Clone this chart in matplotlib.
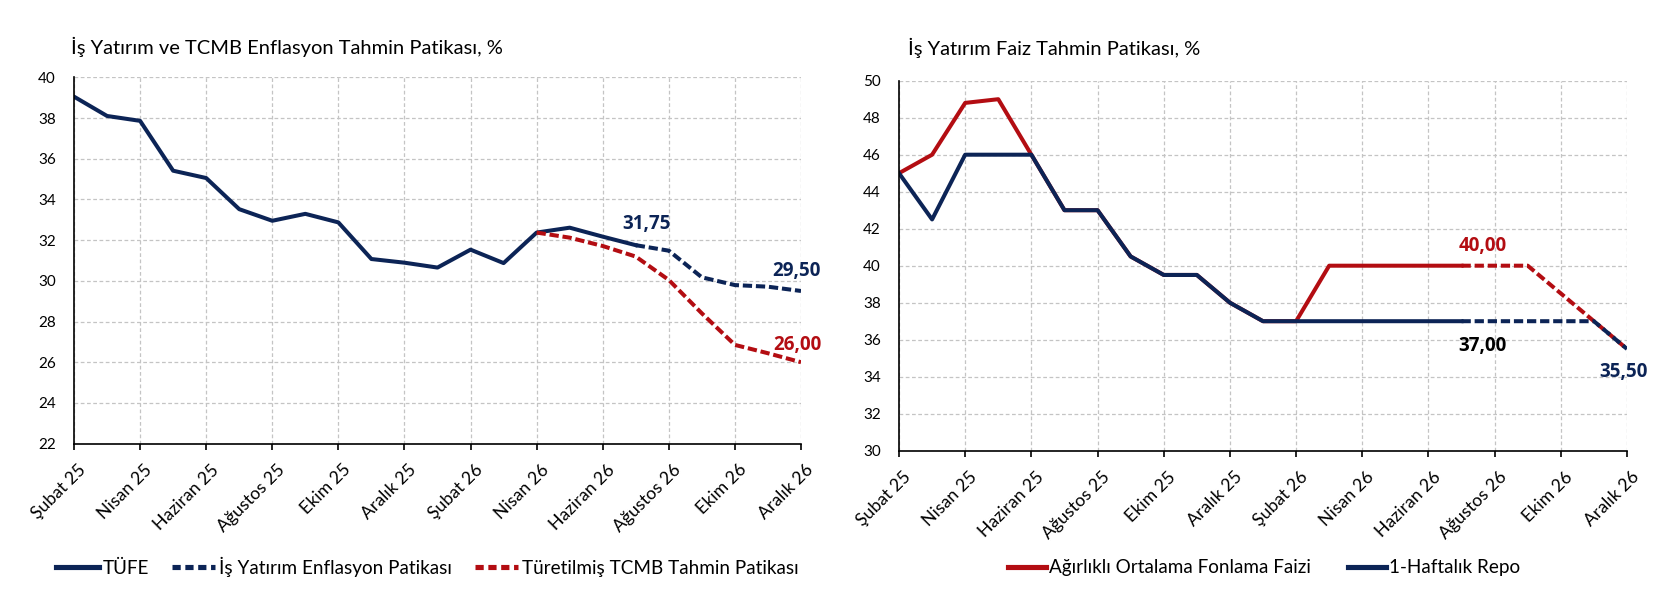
import numpy as np
import matplotlib
matplotlib.use("Agg")
import matplotlib.pyplot as plt
from matplotlib.transforms import ScaledTranslation
from matplotlib.lines import Line2D
from matplotlib.textpath import TextPath
from matplotlib.font_manager import FontProperties

plt.rcParams['font.family'] = ['Lato', 'DejaVu Sans']

# ---------------- data ----------------
months = ["Şubat 25", "Mart 25", "Nisan 25", "Mayıs 25", "Haziran 25", "Temmuz 25",
          "Ağustos 25", "Eylül 25", "Ekim 25", "Kasım 25", "Aralık 25", "Ocak 26",
          "Şubat 26", "Mart 26", "Nisan 26", "Mayıs 26", "Haziran 26", "Temmuz 26",
          "Ağustos 26", "Eylül 26", "Ekim 26", "Kasım 26", "Aralık 26"]

# Left chart (inflation, %)
tufe = [39.05, 38.10, 37.86, 35.41, 35.05, 33.52, 32.95, 33.29, 32.87, 31.07,
        30.89, 30.65, 31.53, 30.87, 32.37, 32.61, 32.17, 31.75]          # Şubat 25 - Temmuz 26
is_path_start = 17                                                       # Temmuz 26
is_path = [31.75, 31.48, 30.17, 29.79, 29.71, 29.50]                      # Temmuz 26 - Aralık 26
tcmb_start = 14                                                          # Nisan 26
tcmb_path = [32.37, 32.12, 31.71, 31.19, 30.04, 28.40, 26.85, 26.44, 26.00]  # Nisan 26 - Aralık 26

# Right chart (rates, %)
aof = [45.0, 46.0, 48.8, 49.0, 46.0, 43.0, 43.0, 40.5, 39.5, 39.5, 38.0, 37.0,
       37.0, 40.0, 40.0, 40.0, 40.0, 40.0]                                 # Şubat 25 - Temmuz 26
repo = [45.0, 42.5, 46.0, 46.0, 46.0, 43.0, 43.0, 40.5, 39.5, 39.5, 38.0, 37.0,
        37.0, 37.0, 37.0, 37.0, 37.0, 37.0]
fc_start = 17                                                            # Temmuz 26
aof_fc = [40.0, 40.0, 40.0, 38.5, 37.0, 35.5]
repo_fc = [37.0, 37.0, 37.0, 37.0, 37.0, 35.5]

left_title = "İş Yatırım ve TCMB Enflasyon Tahmin Patikası, %"
right_title = "İş Yatırım Faiz Tahmin Patikası, %"
left_legend = ["TÜFE", "İş Yatırım Enflasyon Patikası", "Türetilmiş TCMB Tahmin Patikası"]
right_legend = ["Ağırlıklı Ortalama Fonlama Faizi", "1-Haftalık Repo"]

NAVY = '#0c2456'
RED = '#b30d12'
GRID = '#c4c4c4'
BOLD_FAMILY = ['Open Sans', 'Noto Sans', 'DejaVu Sans']


def fit_size(text, target_px, family=('Lato', 'DejaVu Sans'), weight='normal'):
    """font size (pt) so that text is target_px wide at 100 dpi"""
    fp = FontProperties(family=list(family), weight=weight, size=10)
    w = TextPath((0, 0), text, prop=fp).get_extents().width  # in points at size 10
    return 10 * (target_px * 0.72) / w


W, H = 1660, 608
fig = plt.figure(figsize=(W / 100, H / 100), dpi=100)


def px_axes(x0, y0, x1, y1):
    return fig.add_axes([x0 / W, 1 - y1 / H, (x1 - x0) / W, (y1 - y0) / H])


axL = px_axes(74, 77.3, 801, 443.6)
axR = px_axes(899, 80.7, 1627, 450.7)

x_all = np.arange(len(months))
LW = 2.9
DASH = (2.3, 0.95)

title_fs = fit_size(left_title, 431)
legend_fs = fit_size(left_legend[2], 274)
ytick_fs = fit_size("40", 17)
xtick_fs = fit_size("Aralık 25", 52 / 0.7071 * 0.93)
ann_fs = fit_size("31,75", 46.6, family=BOLD_FAMILY, weight='bold')


def style(ax, ylo, yhi):
    ax.set_xlim(0, len(months) - 1)
    ax.set_ylim(ylo, yhi)
    ax.set_yticks(np.arange(ylo, yhi + 0.1, 2))
    ax.set_xticks(x_all[::2])
    ax.set_xticklabels(months[::2], rotation=45, ha='right', va='top',
                       rotation_mode='anchor')
    for s in ['top', 'right']:
        ax.spines[s].set_visible(False)
    for s in ['left', 'bottom']:
        ax.spines[s].set_linewidth(1.2)
        ax.spines[s].set_color('black')
    ax.grid(True, color=GRID, linestyle=(0, (3, 2)), linewidth=0.9)
    ax.set_axisbelow(True)
    ax.tick_params(axis='y', length=0, pad=13, labelsize=ytick_fs)
    ax.tick_params(axis='x', length=4, width=1.2, pad=9, labelsize=xtick_fs)
    off = ScaledTranslation(4 / 100, 0, fig.dpi_scale_trans)
    for lab in ax.get_xticklabels():
        lab.set_transform(lab.get_transform() + off)


def ann(ax, x, y, s, color):
    ax.text(x, y, s, color=color, fontsize=ann_fs, fontweight='bold',
            family=BOLD_FAMILY, ha='center', va='center')


# ---------- left ----------
style(axL, 22, 40)
axL.plot(x_all[:len(tufe)], tufe, color=NAVY, lw=LW)
axL.plot(x_all[tcmb_start:tcmb_start + len(tcmb_path)], tcmb_path, color=RED, lw=LW,
         dashes=DASH)
axL.plot(x_all[is_path_start:is_path_start + len(is_path)], is_path, color=NAVY, lw=LW,
         dashes=DASH)
ann(axL, 17.33, 32.79, "31,75", NAVY)
ann(axL, 21.85, 30.50, "29,50", NAVY)
ann(axL, 21.88, 26.85, "26,00", RED)
fig.text(71 / W, 1 - 47 / H, left_title, fontsize=title_fs, ha='left', va='center')

hL = [Line2D([], [], color=NAVY, lw=LW + 0.8),
      Line2D([], [], color=NAVY, lw=LW + 0.8, dashes=(1.6, 0.9)),
      Line2D([], [], color=RED, lw=LW + 0.8, dashes=(1.6, 0.9))]
fig.legend(hL, left_legend,
           loc='center', bbox_to_anchor=(427 / W, 1 - 567 / H), ncol=3, frameon=False,
           fontsize=legend_fs, handlelength=2.3, handletextpad=0.2, columnspacing=1.2)

# ---------- right ----------
style(axR, 30, 50)
axR.plot(x_all[:len(aof)], aof, color=RED, lw=LW)
axR.plot(x_all[fc_start:fc_start + len(aof_fc)], aof_fc, color=RED, lw=LW, dashes=DASH)
axR.plot(x_all[:len(repo)], repo, color=NAVY, lw=LW)
axR.plot(x_all[fc_start:fc_start + len(repo_fc)], repo_fc, color=NAVY, lw=LW, dashes=DASH)
ann(axR, 17.64, 41.08, "40,00", RED)
ann(axR, 17.64, 35.68, "37,00", 'black')
ann(axR, 21.88, 34.25, "35,50", NAVY)
fig.text(908 / W, 1 - 48 / H, right_title, fontsize=title_fs, ha='left', va='center')

hR = [Line2D([], [], color=RED, lw=LW + 0.8),
      Line2D([], [], color=NAVY, lw=LW + 0.8)]
fig.legend(hR, right_legend,
           loc='center', bbox_to_anchor=(1264 / W, 1 - 568 / H), ncol=2, frameon=False,
           fontsize=legend_fs, handlelength=2.0, handletextpad=0.15, columnspacing=2.0)

fig.savefig("out.png", dpi=100)
